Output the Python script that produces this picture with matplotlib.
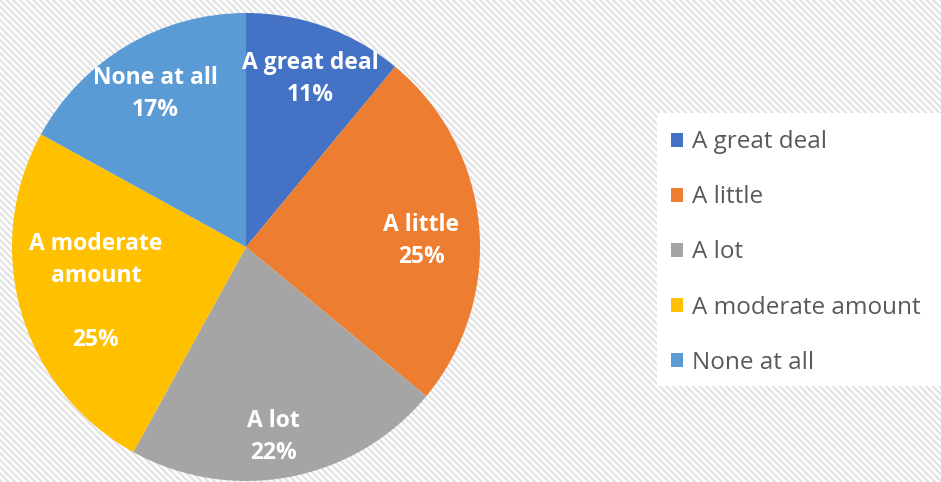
import numpy as np
import matplotlib.pyplot as plt
from matplotlib.patches import Rectangle

# Survey responses
categories = ["A great deal", "A little", "A lot", "A moderate amount", "None at all"]
shares = [11, 25, 22, 25, 17]
slice_labels = ["A great deal", "A little", "A lot", "A moderate\namount\n", "None at all"]

colors = ["#4472C4", "#ED7D31", "#A5A5A5", "#FFC000", "#5B9BD5"]
# radial distance (fraction of radius) and angular nudge (deg) for each label
label_dist = [0.77, 0.75, 0.82, 0.67, 0.76]
label_nudge = [-1.0, -3.5, -2.6, 0.5, 0.0]

plt.rcParams["font.family"] = ["Open Sans", "DejaVu Sans"]
plt.rcParams["hatch.linewidth"] = 1.6
plt.rcParams["hatch.color"] = "#e2e2e2"

W, H = 941, 482
fig = plt.figure(figsize=(W / 100, H / 100), dpi=100)
fig.patch.set_facecolor("white")

# striped backdrop
bg = fig.add_axes([0, 0, 1, 1])
bg.set_axis_off()
bg.add_patch(Rectangle((0, 0), 1, 1, transform=bg.transAxes, facecolor="white",
                       edgecolor="#e2e2e2", hatch="\\\\\\\\\\", linewidth=0))

ax = fig.add_axes([0, 0, 1, 1])
cx, cy, r = 246, H - 247, 234
wedges, _ = ax.pie(shares, colors=colors, startangle=90, counterclock=False,
                   center=(cx, cy), radius=r, frame=True)
ax.set_xlim(0, W)
ax.set_ylim(0, H)
ax.set_aspect("equal")
ax.set_axis_off()

for w, lab, val, d, nd in zip(wedges, slice_labels, shares, label_dist, label_nudge):
    mid = np.deg2rad((w.theta1 + w.theta2) / 2 + nd)
    x = cx + d * r * np.cos(mid)
    y = cy + d * r * np.sin(mid)
    ax.text(x, y, f"{lab}\n{val}%", ha="center", va="center", color="white",
            fontsize=16.5, fontweight="bold", linespacing=1.45)

# legend panel
ax.add_patch(Rectangle((657, H - 386), W - 657, 273, facecolor="white",
                       edgecolor="none", zorder=1))
leg = ax.legend(wedges, categories, loc="upper left", bbox_to_anchor=(0.703, 0.75),
                frameon=False, fontsize=17.5, handlelength=0.5, handleheight=0.5,
                handletextpad=0.35, labelspacing=1.28, borderaxespad=0)
for t in leg.get_texts():
    t.set_color("#595959")

fig.savefig("out.png", dpi=100)
